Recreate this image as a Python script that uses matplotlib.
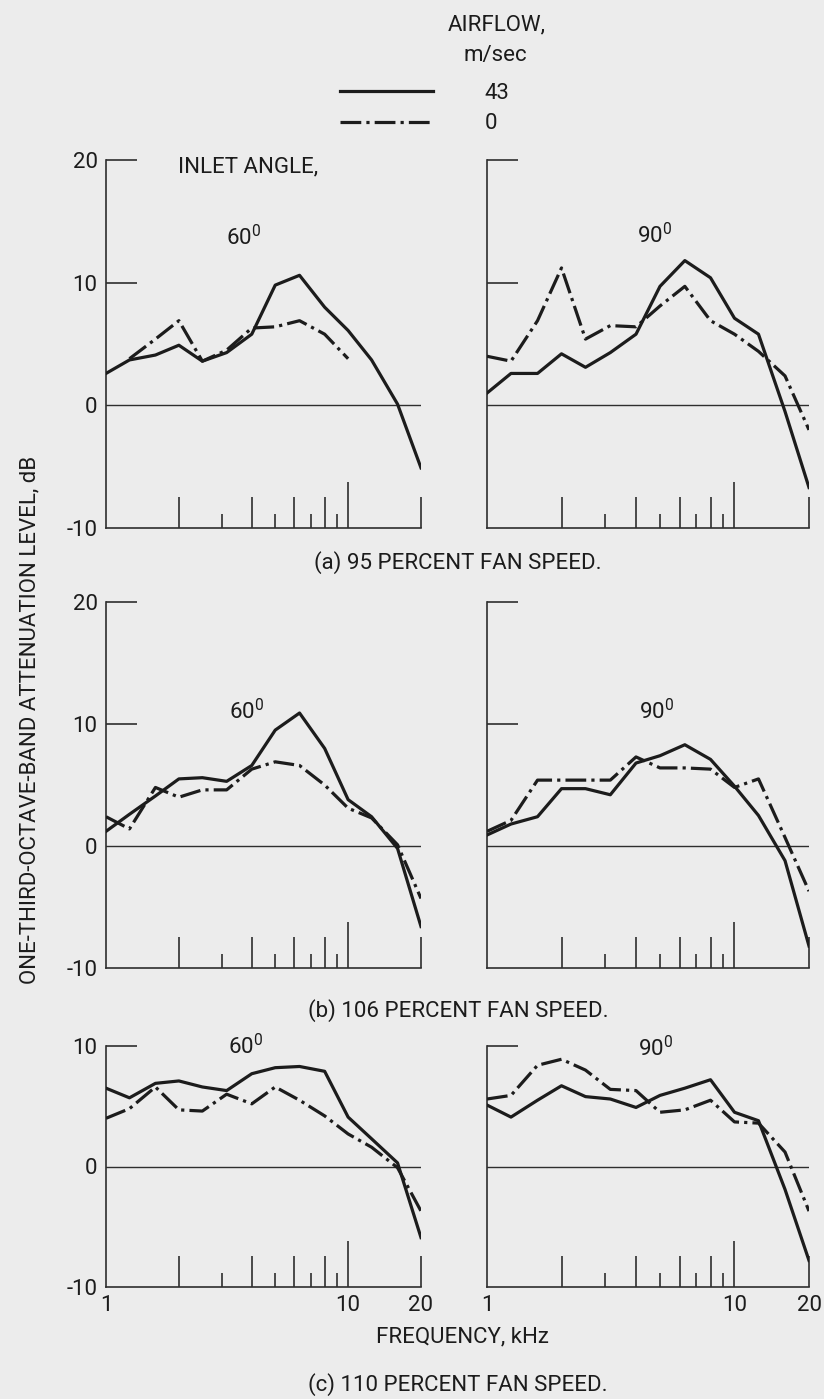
import numpy as np
import matplotlib
matplotlib.use('Agg')
import matplotlib.pyplot as plt
from matplotlib.ticker import NullFormatter

plt.rcParams['font.family'] = ['Roboto', 'DejaVu Sans']

nan = float('nan')

# One-third-octave band centre frequencies, kHz
freq_khz = [1, 1.25, 1.6, 2, 2.5, 3.15, 4, 5, 6.3, 8, 10, 12.5, 16, 20]

# (a) 95 percent fan speed
a60_air43 = [2.6, 3.7, 4.1, 4.9, 3.6, 4.3, 5.8, 9.8, 10.6, 8.0, 6.1, 3.7, 0.1, -5.1]
a60_air0 = [nan, 3.8, 5.4, 6.9, 3.6, 4.5, 6.3, 6.4, 6.9, 5.8, 3.8, nan, nan, nan]
a90_air43 = [1.0, 2.6, 2.6, 4.2, 3.1, 4.3, 5.8, 9.7, 11.8, 10.4, 7.1, 5.8, -0.5, -6.7]
a90_air0 = [4.0, 3.6, 6.9, 11.2, 5.4, 6.5, 6.4, 8.1, 9.7, 6.9, 5.8, 4.4, 2.4, -2.0]

# (b) 106 percent fan speed
b60_air43 = [1.2, 2.6, 4.1, 5.5, 5.6, 5.3, 6.6, 9.5, 10.9, 8.0, 3.8, 2.4, -0.2, -6.6]
b60_air0 = [2.4, 1.4, 4.8, 4.0, 4.6, 4.6, 6.3, 6.9, 6.6, 5.0, 3.1, 2.3, 0.1, -4.3]
b90_air43 = [0.9, 1.8, 2.4, 4.7, 4.7, 4.2, 6.8, 7.4, 8.3, 7.1, 4.9, 2.5, -1.2, -8.2]
b90_air0 = [1.2, 2.1, 5.4, 5.4, 5.4, 5.4, 7.3, 6.4, 6.4, 6.3, 4.8, 5.5, 0.7, -3.7]

# (c) 110 percent fan speed
c60_air43 = [6.5, 5.7, 6.9, 7.1, 6.6, 6.3, 7.7, 8.2, 8.3, 7.9, 4.1, 2.3, 0.3, -5.9]
c60_air0 = [4.0, 4.8, 6.6, 4.7, 4.6, 6.0, 5.2, 6.6, 5.5, 4.2, 2.7, 1.6, -0.1, -3.7]
c90_air43 = [5.1, 4.1, 5.5, 6.7, 5.8, 5.6, 4.9, 5.9, 6.5, 7.2, 4.5, 3.8, -1.9, -7.8]
c90_air0 = [5.6, 5.9, 8.4, 8.9, 8.0, 6.4, 6.3, 4.5, 4.7, 5.5, 3.7, 3.6, 1.2, -3.7]

panel_data = [
    [(a60_air43, a60_air0), (a90_air43, a90_air0)],
    [(b60_air43, b60_air0), (b90_air43, b90_air0)],
    [(c60_air43, c60_air0), (c90_air43, c90_air0)],
]
row_ylims = [(-10, 20), (-10, 20), (-10, 10)]
row_yticks = [[20, 10, 0, -10], [20, 10, 0, -10], [10, 0, -10]]
row_captions = ['(a) 95 PERCENT FAN SPEED.', '(b) 106 PERCENT FAN SPEED.',
                '(c) 110 PERCENT FAN SPEED.']
angle_labels = [r'60$^{\mathregular{0}}$', r'90$^{\mathregular{0}}$']

xtick_major = [1, 2, 4, 6, 8, 10, 20]
xtick_major_labels = ['1', '', '', '', '', '10', '20']
xtick_minor = [3, 5, 7, 9]

legend_labels = ['43', '0']

BG = '#ececec'
INK = '#1c1c1c'
AX = '#2e2e2e'
DASHDOT = (0, (6.5, 1.6, 1.0, 1.6))
FS = 16

W, H = 824, 1399
fig = plt.figure(figsize=(W / 100, H / 100), dpi=100, facecolor=BG)


def fx(px):
    return px / W


def fy(py):
    return 1 - py / H


cols = [(106, 421), (487, 809)]
rows = [(160, 528), (602, 968), (1046, 1287)]

handles = None
for r, (top, bot) in enumerate(rows):
    for c, (left, right) in enumerate(cols):
        ax = fig.add_axes([fx(left), fy(bot), (right - left) / W, (bot - top) / H])
        ax.set_facecolor('none')
        ax.set_xscale('log')
        ax.set_xlim(1, 20)
        ax.set_ylim(*row_ylims[r])
        for s in ['top', 'right']:
            ax.spines[s].set_visible(False)
        for s in ['left', 'bottom']:
            ax.spines[s].set_linewidth(1.2)
            ax.spines[s].set_color(AX)

        ax.axhline(0, color=AX, lw=1.0, zorder=1)

        s43, s0 = panel_data[r][c]
        h1, = ax.plot(freq_khz, s43, color=INK, lw=2.3, zorder=3)
        h2, = ax.plot(freq_khz, s0, color=INK, lw=2.3, linestyle=DASHDOT, zorder=3)
        if handles is None:
            handles = [h1, h2]

        show_x = (r == 2)
        ax.set_xticks(xtick_major, labels=xtick_major_labels if show_x else [''] * len(xtick_major))
        ax.set_xticks(xtick_minor, minor=True)
        ax.xaxis.set_minor_formatter(NullFormatter())
        ax.tick_params(axis='x', which='major', direction='in', length=22, width=1.2,
                       color=AX, pad=6, labelsize=FS, labelcolor=INK)
        ax.tick_params(axis='x', which='minor', direction='in', length=10, width=1.2,
                       color=AX)
        for t, loc in zip(ax.xaxis.get_major_ticks(), xtick_major):
            if loc == 10:
                t.tick1line.set_markersize(33)
            elif loc == 1:
                t.tick1line.set_markersize(0)

        yt = row_yticks[r]
        ax.set_yticks(yt, labels=[str(v) for v in yt])
        ax.tick_params(axis='y', which='major', direction='in', length=22, width=1.2,
                       color=AX, pad=6, labelsize=FS, labelcolor=INK, labelleft=(c == 0))
        ax.tick_params(axis='y', which='minor', left=False)
        for t, loc in zip(ax.yaxis.get_major_ticks(), yt):
            if loc <= 0:
                t.tick1line.set_markersize(0)

angle_pos = [[(244, 238), (655, 236)],
             [(247, 712), (657, 712)],
             [(246, 1047), (656, 1049)]]
for r in range(3):
    for c in range(2):
        x, y = angle_pos[r][c]
        fig.text(fx(x), fy(y), angle_labels[c], ha='center', va='center',
                 fontsize=FS, color=INK)

fig.text(fx(178), fy(167), 'INLET ANGLE,', ha='left', va='center', fontsize=FS, color=INK)

caption_y = [563, 1011, 1385]
for r in range(3):
    fig.text(fx(458), fy(caption_y[r]), row_captions[r], ha='center', va='center',
             fontsize=FS, color=INK)

fig.text(fx(462), fy(1337), 'FREQUENCY, kHz', ha='center', va='center', fontsize=FS, color=INK)
fig.text(fx(30), fy(720), 'ONE-THIRD-OCTAVE-BAND ATTENUATION LEVEL, dB', ha='center',
         va='center', rotation=90, fontsize=FS, color=INK)

fig.text(fx(497), fy(25), 'AIRFLOW,', ha='center', va='center', fontsize=FS, color=INK)
fig.text(fx(495), fy(55), 'm/sec', ha='center', va='center', fontsize=FS, color=INK)
fig.legend(handles=handles, labels=legend_labels, loc='upper left',
           bbox_to_anchor=(fx(340), fy(83)), frameon=False, borderpad=0, borderaxespad=0,
           handlelength=4.2, handletextpad=2.3, labelspacing=0.42, fontsize=FS,
           labelcolor=INK)

fig.savefig('out.png', dpi=100, facecolor=BG)
